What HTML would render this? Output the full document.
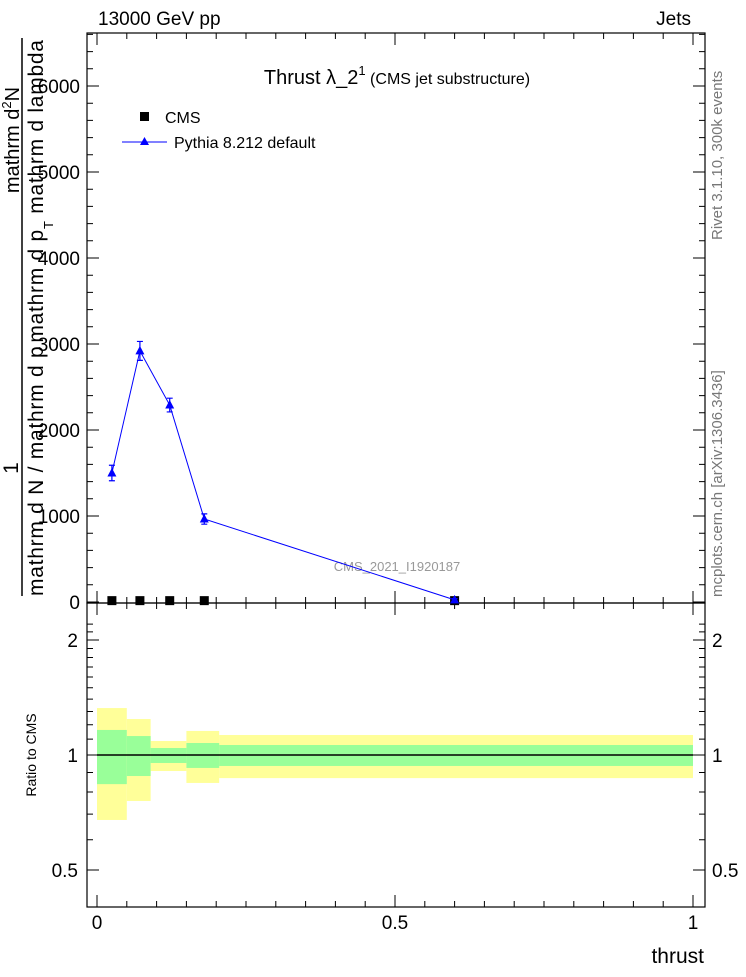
<!DOCTYPE html>
<html><head><meta charset="utf-8"><style>
body{margin:0;background:#fff}
svg text{font-family:"Liberation Sans",Arial,sans-serif}
</style></head><body>
<svg id="c" width="746" height="972" viewBox="0 0 746 972">
<text x="98" y="25" font-size="19">13000 GeV pp</text>
<text x="691" y="25" font-size="19" text-anchor="end">Jets</text>
<text x="397" y="84" font-size="20" text-anchor="middle">Thrust  λ_2<tspan font-size="13" dy="-9">1</tspan><tspan font-size="16" dy="9"> (CMS jet substructure)</tspan></text>
<rect x="140" y="112" width="9" height="9" fill="#000"/>
<text x="165" y="123" font-size="16">CMS</text>
<line x1="122" y1="142" x2="167" y2="142" stroke="#00f"/>
<polygon points="144.5,137 149,145 140,145" fill="#00f"/>
<text x="174" y="148" font-size="16">Pythia 8.212 default</text>
<text x="397" y="571" font-size="13" fill="#999" text-anchor="middle">CMS_2021_I1920187</text>
<text transform="translate(722,240) rotate(-90)" font-size="15" fill="#777">Rivet 3.1.10,  300k events</text>
<text transform="translate(722,597) rotate(-90)" font-size="15" fill="#777">mcplots.cern.ch [arXiv:1306.3436]</text>
<g id="ylab">
<text transform="translate(18,468) rotate(-90)" font-size="21" text-anchor="middle">1</text>
<line x1="22" y1="38" x2="22" y2="596" stroke="#000" stroke-width="1.5"/>
<text transform="translate(19,140) rotate(-90)" font-size="20" text-anchor="middle">mathrm d<tspan font-size="13" dy="-8">2</tspan><tspan dy="8">N</tspan></text>
<text transform="translate(43,596) rotate(-90)" font-size="21" textLength="556" lengthAdjust="spacing">mathrm d N / mathrm d p<tspan dx="3">mathrm d p</tspan><tspan font-size="13" dy="10">T</tspan><tspan dy="-10"> mathrm d lambda</tspan></text>
</g>
<text x="704" y="963" font-size="21" text-anchor="end">thrust</text>
<text transform="translate(36,755) rotate(-90)" font-size="14" text-anchor="middle">Ratio to CMS</text>
<g id="bands"></g>
<g id="axes"></g>
<g id="marks"></g>
</svg>
<script>
const xVals=[0.025,0.072,0.122,0.18,0.6];
const pythiaVals=[1500,2920,2290,965,25];
const pythiaErr=[90,110,80,60,15];
const cmsVals=[10,10,10,10,10];
const binEdges=[0,0.05,0.09,0.15,0.205,1];
const yellowUp=[1.327,1.242,1.088,1.156,1.128];
const yellowDn=[0.676,0.758,0.908,0.845,0.87];
const greenUp=[1.163,1.121,1.043,1.075,1.062];
const greenDn=[0.839,0.881,0.953,0.925,0.936];
const mainTicks=[0,1000,2000,3000,4000,5000,6000];
const mainTickLabels=["0","1000","2000","3000","4000","5000","6000"];
const xTicks=[0,0.5,1];
const xTickLabels=["0","0.5","1"];
const ratioTicks=[0.5,1,2];
const ratioTickLabels=["0.5","1","2"];

const NS="http://www.w3.org/2000/svg";
const X=v=>97+596*v;
const Y=v=>602-0.086*v;
const R=r=>755-115*Math.log2(r);
function mk(tag,attrs,parent){const e=document.createElementNS(NS,tag);for(const k in attrs)e.setAttribute(k,attrs[k]);document.getElementById(parent).appendChild(e);return e;}

for(let i=0;i<yellowUp.length;i++){
  let e=mk('rect',{x:X(binEdges[i]),y:R(yellowUp[i]),width:X(binEdges[i+1])-X(binEdges[i]),height:R(yellowDn[i])-R(yellowUp[i]),fill:'#ffff99'},'bands');
  
  
}
for(let i=0;i<greenUp.length;i++){
  let e=mk('rect',{x:X(binEdges[i]),y:R(greenUp[i]),width:X(binEdges[i+1])-X(binEdges[i]),height:R(greenDn[i])-R(greenUp[i]),fill:'#99ff99'},'bands');
  
  
}
let rl=mk('line',{x1:X(binEdges[0]),x2:X(1),y1:R(1),y2:R(1),stroke:'#000','stroke-width':1.5},'bands');



let f1=mk('rect',{x:87,y:33,width:618,height:570,fill:'none',stroke:'#000','stroke-width':1.2},'axes');


let f2=mk('rect',{x:87,y:603,width:618,height:304,fill:'none',stroke:'#000','stroke-width':1.2},'axes');


let tp='';
for(let v=0;v<=6600;v+=200){const y=Y(v);if(y<33)break;const L=v%1000===0?12:6;tp+=`M87 ${y}h${L}M705 ${y}h${-L}`;}
for(let v=0;v<=1.01;v+=0.05){const x=X(v);const L=Math.abs(v*10-Math.round(v*10))<1e-6&&Math.round(v*10)%5===0?12:6;tp+=`M${x} 603v${-L}M${x} 33v${L}M${x} 907v${-L}M${x} 603v${L}`;}
for(let r=0.4;r<=2.3;r+=0.1){const y=R(r);if(y<603||y>907)continue;const major=[0.5,1,2].some(t=>Math.abs(t-r)<1e-6);const L=major?12:6;tp+=`M87 ${y}h${L}M705 ${y}h${-L}`;}
let tk=mk('path',{d:tp,stroke:'#000','stroke-width':1,fill:'none'},'axes');


mainTicks.forEach((v,i)=>{let t=mk('text',{x:80,y:Y(v)+7,'font-size':19,'text-anchor':'end'},'axes');t.textContent=mainTickLabels[i];

});
xTicks.forEach((v,i)=>{let t=mk('text',{x:X(v),y:929,'font-size':19,'text-anchor':'middle'},'axes');t.textContent=xTickLabels[i];

});
ratioTicks.forEach((v,i)=>{let t=mk('text',{x:78,y:R(v)+7,'font-size':19,'text-anchor':'end'},'axes');t.textContent=ratioTickLabels[i];


let t2=mk('text',{x:712,y:R(v)+7,'font-size':19},'axes');t2.textContent=ratioTickLabels[i];

});

cmsVals.forEach((v,i)=>{let r=mk('rect',{x:X(xVals[i])-4.5,y:Y(v)-5,width:9,height:9,fill:'#000'},'marks');

});
let pl=mk('polyline',{points:xVals.map((x,i)=>X(x)+','+Y(pythiaVals[i])).join(' '),fill:'none',stroke:'#00f','stroke-width':1},'marks');


pythiaVals.forEach((v,i)=>{const x=X(xVals[i]),y=Y(v),e=pythiaErr[i]*0.086;
let eb=mk('path',{d:`M${x} ${y-e}V${y+e}M${x-3} ${y-e}h6M${x-3} ${y+e}h6`,stroke:'#00f','stroke-width':1.2},'marks');


let p=mk('polygon',{points:`${x},${y-5} ${x+4.5},${y+3.5} ${x-4.5},${y+3.5}`,fill:'#00f'},'marks');

});
</script>
</body></html>
